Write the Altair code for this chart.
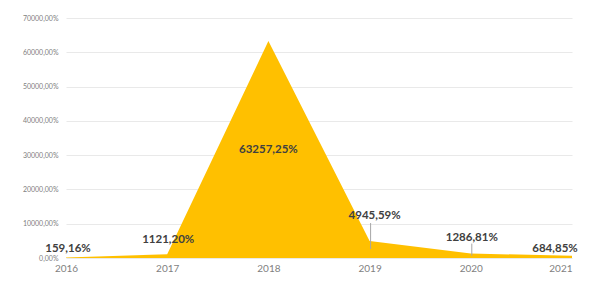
import altair as alt
import pandas as pd

years = [2016, 2017, 2018, 2019, 2020, 2021]
values = [159.16, 1121.20, 63257.25, 4945.59, 1286.81, 684.85]
y_ticks = [0, 10000, 20000, 30000, 40000, 50000, 60000, 70000]

df = pd.DataFrame({"year": years, "value": values})

FONT = "Lato"
GOLD = "#FFC000"

x_enc = alt.X("year:Q", scale=alt.Scale(domain=[2016, 2021], nice=False),
              axis=alt.Axis(values=years, tickCount=10, format="d", title=None, grid=False,
                            domain=False, ticks=False, labelFont=FONT,
                            labelFontSize=10, labelColor="#7f7f7f",
                            labelPadding=5, labelOverlap=False,
                            labelAlign={"condition": {"test": "datum.value == 2021", "value": "right"}, "value": "center"},
                            labelFlush=False))
y_enc = alt.Y("value:Q", scale=alt.Scale(domain=[0, 70000], nice=False),
              axis=alt.Axis(values=y_ticks, tickCount=12, title=None, domain=False, ticks=False,
                            labelExpr="replace(format(datum.value, '.2f'), '.', ',') + '%'",
                            labelFont=FONT, labelFontSize=7, labelColor="#808080",
                            labelOverlap=False, labelFlush=False,
                            labelPadding=8, gridColor="#e9e9e9", gridWidth=1))

base = alt.Chart(df)

area = base.mark_area(color=GOLD, opacity=1).encode(x=x_enc, y=y_enc)

label_style = [
    (2016, 2, -8),
    (2017, 1, -14),
    (2018, 0, 109),
    (2019, 5, -25),
    (2020, 1, -16),
    (2021, -17, -7),
]

layers = [area]

leaders = [(2019, -18, 8), (2020, -10, 2)]
for yr, y0, y1 in leaders:
    layers.append(
        base.transform_filter(alt.datum.year == yr)
        .mark_rule(color="#a6a6a6", strokeWidth=1, yOffset=y0, y2Offset=y1, xOffset=1)
        .encode(x="year:Q", y="value:Q", y2="value")
    )

for yr, dx, dy in label_style:
    layers.append(
        base.transform_filter(alt.datum.year == yr)
        .transform_calculate(lab="replace(format(datum.value, '.2f'), '.', ',') + '%'")
        .mark_text(font=FONT, fontSize=11.5, fontWeight="bold", color="#404040",
                   dx=dx, dy=dy, baseline="middle", align="center")
        .encode(x="year:Q", y="value:Q", text="lab:N")
    )

chart = alt.layer(*layers).properties(
    width=506, height=240,
    autosize=alt.AutoSizeParams(type="none"),
    padding={"left": 58, "top": 10, "right": 8, "bottom": 20},
    background="white",
).configure_view(stroke=None)

chart.save("out.html", embed_options={"renderer": "svg", "actions": False})
